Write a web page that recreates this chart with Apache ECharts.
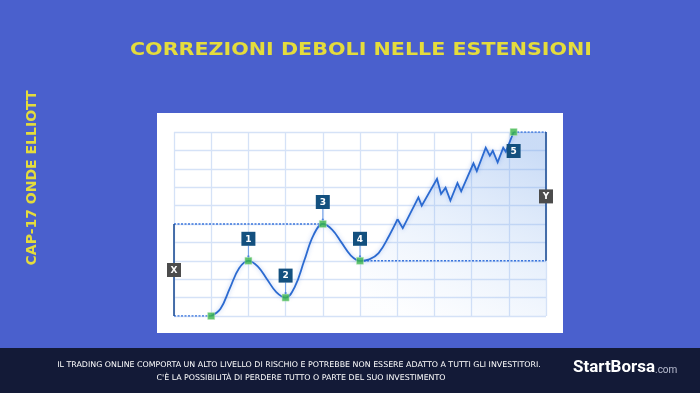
<!DOCTYPE html>
<html><head><meta charset="utf-8">
<script src="https://cdn.jsdelivr.net/npm/echarts@6/dist/echarts.min.js"></script>
<style>html,body{margin:0;padding:0;background:#4a60cd}#c{width:700px;height:393px}</style>
</head><body><div id="c"></div>
<script>
// Elliott wave: waves 1-4 (smooth curve), then extension with weak corrections
const waveX = [1, 1.25, 1.5, 1.75, 2, 2.25, 2.5, 2.75, 3, 3.25, 3.5, 3.75, 4, 4.25, 4.5, 4.75, 5, 5.25, 5.5, 5.78, 6.01];
const waveY = [0, 0.4, 1.5, 2.6, 3, 2.7, 2, 1.3, 1, 1.6, 3, 4.4, 5, 4.7, 4, 3.3, 3, 3.08, 3.42, 4.35, 5.26];
const zigX = [6.01, 6.15, 6.57, 6.66, 7.07, 7.18, 7.30, 7.43, 7.62, 7.72, 8.05, 8.14, 8.38, 8.49, 8.57, 8.70, 8.85, 8.92, 9.13];
const zigY = [5.26, 4.77, 6.45, 6.0, 7.45, 6.63, 6.97, 6.27, 7.23, 6.78, 8.3, 7.88, 9.15, 8.71, 8.98, 8.35, 9.15, 8.93, 10];
const keyX = [1, 2, 3, 4, 5, 9.13];
const keyY = [0, 3, 1, 5, 3, 10];
const waveLabels = ['1', '2', '3', '4', '5'];
const waveLabelX = [2, 3, 4, 5, 9.13];
const waveLabelY = [3, 1, 5, 3, 10];
const bracketLabels = ['X', 'Y'];
const bracketX = [0, 10];
const bracketY = [2.5, 6.5];
const xTicks = [0, 10, 1];
const yTicks = [0, 10, 1];
const titleText = 'CORREZIONI DEBOLI NELLE ESTENSIONI';
const sideText = 'CAP-17 ONDE ELLIOTT';
const footer1 = 'IL TRADING ONLINE COMPORTA UN ALTO LIVELLO DI RISCHIO E POTREBBE NON ESSERE ADATTO A TUTTI GLI INVESTITORI.';
const footer2 = "C'È LA POSSIBILITÀ DI PERDERE TUTTO O PARTE DEL SUO INVESTIMENTO";

const zip = (a, b) => a.map((v, i) => [v, b[i]]);
const lineColor = '#2b6ad0';
const dotColor = '#3b75dc';

const chart = echarts.init(document.getElementById('c'));
const startIdx = waveX.indexOf(5);
const areaData = zip(waveX, waveY).slice(startIdx).concat(zip(zigX.slice(1), zigY.slice(1))).concat([[10, 10]]);

const labelBox = (labels, xs, ys, color, pointer) => ({
  type: 'custom',
  z: 6,
  data: xs.map((x, i) => [x, ys[i]]),
  renderItem: function (params, api) {
    const p = api.coord([api.value(0), api.value(1)]);
    const txt = labels[params.dataIndex];
    let cx = p[0], cy = p[1];
    const children = [];
    if (pointer) {
      const below = txt === '5';
      cy = below ? p[1] + 19 : p[1] - 22;
      if (!below) {
        children.push({ type: 'line', shape: { x1: cx, y1: cy + 7, x2: cx, y2: p[1] - 4 }, style: { stroke: '#6f9de6', lineWidth: 1 } });
        children.push({ type: 'circle', shape: { cx: cx, cy: p[1] - 4.5, r: 1.1 }, style: { fill: '#4f86e0' } });
      }
    }
    children.push({ type: 'rect', shape: { x: cx - 7, y: cy - 7, width: 14, height: 14 }, style: { fill: color } });
    children.push({ type: 'text', style: { text: txt, x: cx, y: cy + 0.5, align: 'center', verticalAlign: 'middle', fill: '#ffffff', font: 'bold 9px "DejaVu Sans"' } });
    return { type: 'group', children: children };
  }
});

const dashed = (pts) => ({
  type: 'line', data: pts, symbol: 'none', z: 3, silent: true,
  lineStyle: { color: dotColor, width: 1.4, type: [2, 1.5] }
});
const solid = (pts) => ({
  type: 'line', data: pts, symbol: 'none', z: 3, silent: true,
  lineStyle: { color: '#1f4f95', width: 1.6 }
});

chart.setOption({
  backgroundColor: '#4a60cd',
  animation: false,
  grid: { left: 174, right: 154, top: 132, bottom: 77 },
  xAxis: {
    type: 'value', min: xTicks[0], max: xTicks[1], interval: xTicks[2],
    axisLine: { show: false }, axisTick: { show: false }, axisLabel: { show: false },
    splitLine: { show: true, lineStyle: { color: '#d5e2f7', width: 1.3 } }
  },
  yAxis: {
    type: 'value', min: yTicks[0], max: yTicks[1], interval: yTicks[2],
    axisLine: { show: false }, axisTick: { show: false }, axisLabel: { show: false },
    splitLine: { show: true, lineStyle: { color: '#d5e2f7', width: 1.3 } }
  },
  graphic: [
    { type: 'rect', z: -10, shape: { x: 157, y: 113, width: 406, height: 220 }, style: { fill: '#ffffff' } },
    { type: 'rect', z: -10, shape: { x: 0, y: 348, width: 700, height: 45 }, style: { fill: '#131a37' } },
    { type: 'text', z: 50, x: 361, y: 50.5, scaleX: 1.18,
      style: { text: titleText, x: 0, y: 0, align: 'center', verticalAlign: 'middle', fill: '#e4dc3c', font: 'bold 17.5px "DejaVu Sans"' } },
    { type: 'text', z: 50, x: 32.5, y: 178, rotation: Math.PI / 2,
      style: { text: sideText, x: 0, y: 0, align: 'center', verticalAlign: 'middle', fill: '#e4dc3c', font: 'bold 14px "DejaVu Sans"' } },
    { type: 'text', z: 50, x: 299, y: 365,
      style: { text: footer1, x: 0, y: 0, align: 'center', verticalAlign: 'middle', fill: '#ffffff', font: '7.9px "DejaVu Sans"' } },
    { type: 'text', z: 50, x: 301, y: 377.7,
      style: { text: footer2, x: 0, y: 0, align: 'center', verticalAlign: 'middle', fill: '#ffffff', font: '7.9px "DejaVu Sans"' } },
    { type: 'text', z: 50, x: 573, y: 368, scaleX: 1.06,
      style: { text: 'StartBorsa', x: 0, y: 0, align: 'left', verticalAlign: 'middle', fill: '#ffffff', font: 'bold 16px Roboto' } },
    { type: 'text', z: 50, x: 655, y: 370.5,
      style: { text: '.com', x: 0, y: 0, align: 'left', verticalAlign: 'middle', fill: '#b9bdd0', font: '10px Roboto' } }
  ],
  series: [
    {
      type: 'line', data: areaData, symbol: 'none', z: 1, silent: true,
      lineStyle: { width: 0 },
      areaStyle: {
        color: new echarts.graphic.LinearGradient(0.75, 0, 0.25, 1, [
          { offset: 0, color: 'rgba(105,155,230,0.5)' },
          { offset: 0.5, color: 'rgba(130,175,238,0.26)' },
          { offset: 1, color: 'rgba(160,195,245,0.03)' }
        ])
      }
    },
    dashed([[0, 5], [4, 5]]),
    dashed([[0, 0], [1, 0]]),
    dashed([[5, 3], [10, 3]]),
    dashed([[9.13, 10], [10, 10]]),
    solid([[0, 0], [0, 5]]),
    solid([[10, 3], [10, 10]]),
    {
      type: 'line', data: zip(waveX, waveY), smooth: 0.4, symbol: 'none', z: 4,
      lineStyle: { color: lineColor, width: 1.8, shadowColor: 'rgba(40,100,220,0.35)', shadowBlur: 4 }
    },
    {
      type: 'line', data: zip(zigX, zigY), symbol: 'none', z: 4,
      lineStyle: { color: lineColor, width: 1.8, join: 'miter', shadowColor: 'rgba(40,100,220,0.35)', shadowBlur: 4 }
    },
    {
      type: 'scatter', data: zip(keyX, keyY), symbol: 'rect', symbolSize: 7, z: 5,
      itemStyle: { color: '#3ab54a', borderColor: '#bfe8bf', borderWidth: 0.6 }
    },
    labelBox(waveLabels, waveLabelX, waveLabelY, '#13507f', true),
    labelBox(bracketLabels, bracketX, bracketY, '#4c4c4c', false)
  ]
});
</script>
</body></html>
